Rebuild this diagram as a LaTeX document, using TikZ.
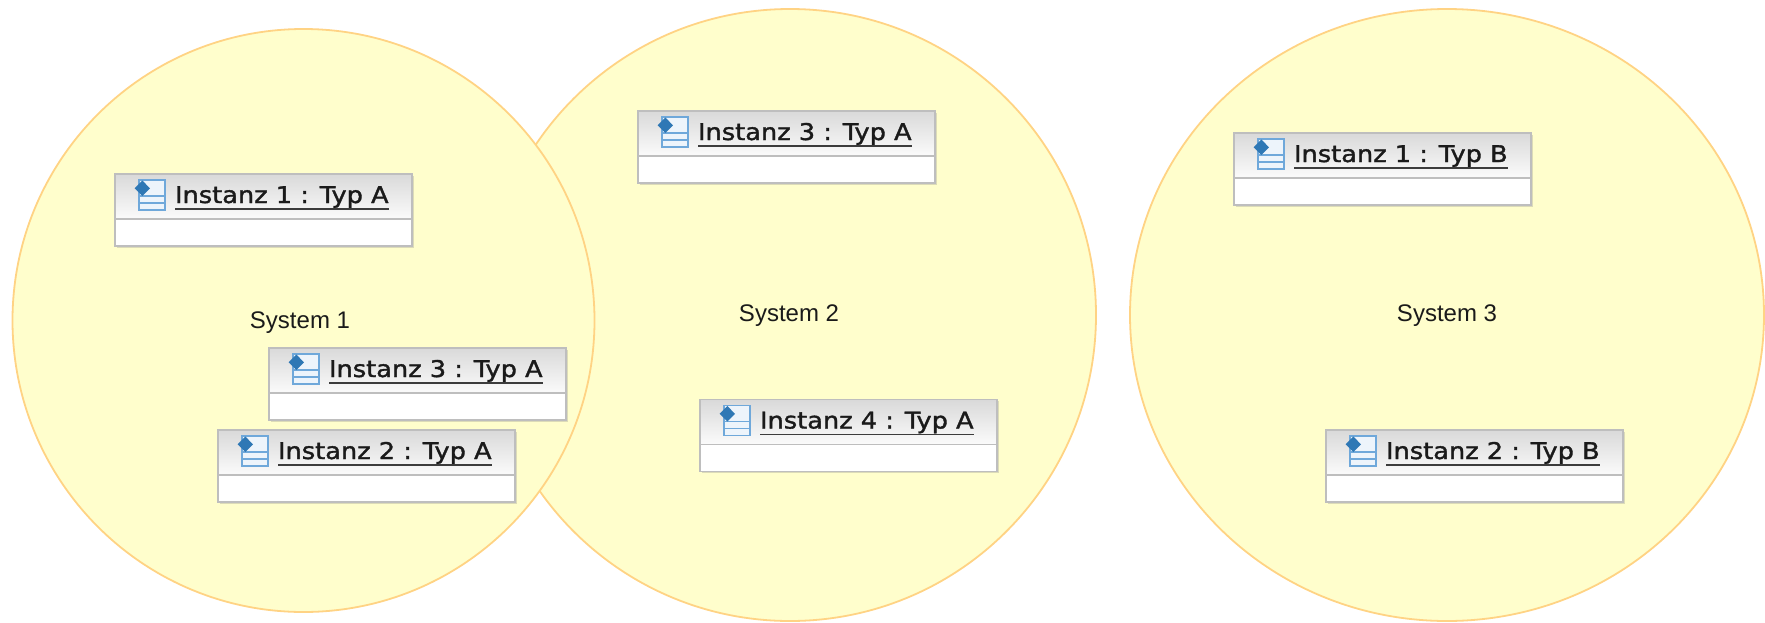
\documentclass[tikz,border=0pt]{standalone}
\usepackage{fontspec}
\setmainfont{Liberation Sans}
\newfontfamily\instfont[FakeStretch=1.115,FakeBold=1.5]{DejaVu Sans}
\usetikzlibrary{shapes.geometric,shadows}
\definecolor{sysfill}{HTML}{FFFECC}
\definecolor{sysline}{HTML}{FFD384}
\definecolor{boxline}{HTML}{BEBEBE}
\definecolor{hdrtop}{HTML}{D9D9D9}
\definecolor{hdrbot}{HTML}{FBFBFB}
\definecolor{iconline}{HTML}{6FA8DA}
\definecolor{iconfill}{HTML}{EDF4FB}
\definecolor{icondia}{HTML}{2F78B5}
\definecolor{txt}{HTML}{1A1A1A}
\tikzset{
  system/.style={ellipse,draw=sysline,fill=sysfill,line width=1.8pt,inner sep=0pt,outer sep=0pt},
  syslabel/.style={inner sep=0pt,font=\fontsize{24}{26}\selectfont,text=txt},
  instbody/.style={rectangle,fill=white,inner sep=0pt,outer sep=0pt,minimum width=297pt,minimum height=72pt,anchor=north west,
    drop shadow={shadow xshift=1.5pt,shadow yshift=-1.5pt,opacity=0.3,fill=black!45}},
  insthdr/.style={rectangle,inner sep=0pt,outer sep=0pt,minimum width=297pt,minimum height=45pt,anchor=north west,
    top color=hdrtop,bottom color=hdrbot,shading angle=0},
  instlabel/.style={inner sep=0pt,outer sep=0pt,anchor=base west,text=txt,font=\instfont\fontsize{23}{25}\selectfont},
  boxedge/.style={draw=boxline,line width=1.5pt},
  underl/.style={draw=txt!85,line width=1.6pt},
  iconedge/.style={draw=iconline,line width=1.5pt}
}
\newcommand{\instbox}[4]{%
  \begin{scope}[shift={(#2,#3)}]
    \node[instbody] (#1) at (0,0) {};
    \node[insthdr] (#1h) at (0,0) {};
    \draw[boxedge,line width=1.2pt] (#1h.south west) -- (#1h.south east);
    \draw[boxedge] (#1.north west) rectangle (#1.south east);
    \fill[iconfill] (24,6) rectangle (50,36);
    \draw[iconedge] (24,6) rectangle (50,36) (24,22) -- (50,22) (24,29) -- (50,29);
    \fill[icondia] (27.3,6.5) -- (35,14.3) -- (27.3,22) -- (19.6,14.3) -- cycle;
    \node[instlabel] (#1t) at (60,29) {#4};
    \draw[underl] ([yshift=-6pt]#1t.base west) -- ([yshift=-6pt]#1t.base east);
  \end{scope}%
}
\begin{document}
\begin{tikzpicture}[x=1pt,y=-1pt]
  \useasboundingbox (0,0) rectangle (1765,622);
  \node[system,minimum width=612pt,minimum height=612pt] (s2) at (790,315) {};
  \node[syslabel] (s2l) at (789,316) {System 2};
  \node[system,minimum width=582pt,minimum height=583pt] (s1) at (303.5,320.5) {};
  \node[syslabel] (s1l) at (300,323) {System 1};
  \node[system,minimum width=634pt,minimum height=612pt] (s3) at (1447,315) {};
  \node[syslabel] (s3l) at (1447,316) {System 3};
  \instbox{a1}{115}{174}{Instanz 1 : Typ A}
  \instbox{a3}{269}{348}{Instanz 3 : Typ A}
  \instbox{a2}{218}{430}{Instanz 2 : Typ A}
  \instbox{b3}{638}{111}{Instanz 3 : Typ A}
  \instbox{b4}{700}{399.5}{Instanz 4 : Typ A}
  \instbox{c1}{1234}{133}{Instanz 1 : Typ B}
  \instbox{c2}{1326}{430}{Instanz 2 : Typ B}
\end{tikzpicture}
\end{document}
